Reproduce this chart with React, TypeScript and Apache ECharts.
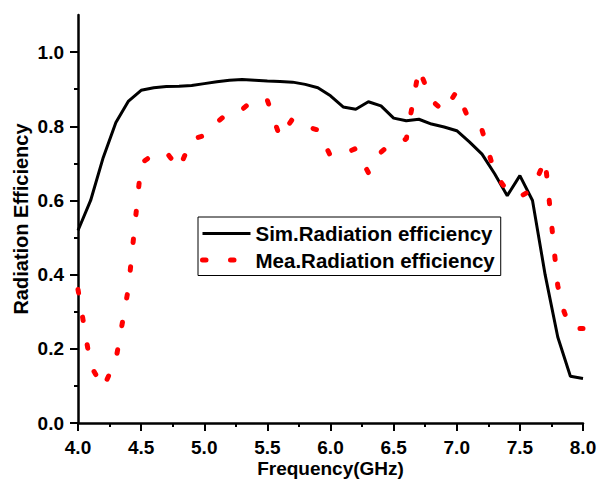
import React, { useEffect, useRef } from "react";
import * as echarts from "echarts";

const simFreq = [4.0, 4.1, 4.2, 4.3, 4.4, 4.5, 4.6, 4.7, 4.8, 4.9, 5.0, 5.1, 5.2, 5.3, 5.4, 5.5, 5.6, 5.7, 5.8, 5.9, 6.0, 6.1, 6.2, 6.3, 6.4, 6.5, 6.6, 6.7, 6.8, 6.9, 7.0, 7.1, 7.2, 7.3, 7.4, 7.5, 7.6, 7.7, 7.8, 7.9, 8.0];
const simEff = [0.519, 0.6, 0.716, 0.81, 0.868, 0.897, 0.904, 0.907, 0.908, 0.91, 0.915, 0.92, 0.924, 0.926, 0.924, 0.922, 0.921, 0.919, 0.913, 0.904, 0.882, 0.852, 0.846, 0.866, 0.855, 0.822, 0.815, 0.819, 0.806, 0.798, 0.788, 0.758, 0.725, 0.672, 0.613, 0.667, 0.6, 0.4, 0.232, 0.126, 0.12];

const meaFreq = [4.0, 4.1, 4.2, 4.3, 4.4, 4.5, 4.6, 4.7, 4.8, 4.9, 5.0, 5.1, 5.2, 5.3, 5.4, 5.5, 5.6, 5.7, 5.8, 5.9, 6.0, 6.1, 6.2, 6.3, 6.4, 6.5, 6.6, 6.7, 6.8, 6.9, 7.0, 7.1, 7.2, 7.3, 7.4, 7.5, 7.6, 7.7, 7.8, 7.85, 7.9, 8.0];
const meaEff = [0.36, 0.155, 0.095, 0.17, 0.365, 0.7, 0.725, 0.73, 0.685, 0.765, 0.775, 0.81, 0.84, 0.845, 0.875, 0.87, 0.77, 0.82, 0.8, 0.79, 0.72, 0.725, 0.74, 0.675, 0.73, 0.76, 0.765, 0.955, 0.87, 0.84, 0.895, 0.815, 0.79, 0.675, 0.625, 0.61, 0.63, 0.71, 0.37, 0.3, 0.255, 0.255];

const seriesNames = ["Sim.Radiation efficiency", "Mea.Radiation efficiency"];
const yMajorTicks = [0, 0.2, 0.4, 0.6, 0.8, 1.0];
const yMinorTicks = [0.1, 0.3, 0.5, 0.7, 0.9];

const FONT = 'Arial, "Liberation Sans", sans-serif';
const RED_DASH = [3.5, 24.5];

export default function App() {
  const ref = useRef<HTMLDivElement>(null);
  useEffect(() => {
    document.body.style.margin = "0";
    if (!ref.current) return;
    const chart = echarts.init(ref.current, undefined, { renderer: "svg" });
    const axisLine = { show: true, onZero: false, lineStyle: { color: "#000", width: 2.5 } };
    const tickFont = { fontSize: 19, fontWeight: "bold", color: "#000", fontFamily: FONT };
    chart.setOption({
      animation: false,
      backgroundColor: "#fff",
      grid: { left: 78, right: 16, top: 15, bottom: 56, containLabel: false, outerBoundsMode: "none" },
      legend: {
        orient: "vertical",
        left: 198,
        top: 217,
        padding: [6, 6, 5, 2],
        itemWidth: 48,
        itemHeight: 14,
        itemGap: 5.5,
        borderColor: "#000",
        borderWidth: 1,
        backgroundColor: "#fff",
        textStyle: { fontSize: 20.5, fontWeight: "bold", color: "#000", fontFamily: FONT },
        data: [
          { name: seriesNames[0], itemStyle: { opacity: 0 }, lineStyle: { width: 3, color: "#000" } },
          { name: seriesNames[1], itemStyle: { opacity: 0 }, lineStyle: { width: 5, color: "#ff0000", type: RED_DASH, cap: "round" } },
        ],
      },
      xAxis: {
        type: "value",
        min: 4,
        max: 8,
        interval: 0.5,
        name: "Frequency(GHz)",
        nameLocation: "middle",
        nameGap: 37,
        nameMoveOverlap: false,
        nameTextStyle: { fontSize: 19, fontWeight: "bold", color: "#000", fontFamily: FONT, lineHeight: 16 },
        axisLine,
        axisTick: { show: true, inside: false, length: 8, lineStyle: { color: "#000", width: 2 } },
        minorTick: { show: true, splitNumber: 2, length: 4, lineStyle: { color: "#000", width: 2 } },
        splitLine: { show: false },
        axisLabel: { margin: 17, ...tickFont, lineHeight: 15, formatter: (v: number) => v.toFixed(1) },
      },
      yAxis: [
        {
          type: "value",
          min: 0,
          max: 1.1,
          interval: 0.1,
          name: "Radiation Efficiency",
          nameLocation: "middle",
          nameGap: 47,
          nameMoveOverlap: false,
          nameTextStyle: { fontSize: 20, fontWeight: "bold", color: "#000", fontFamily: FONT, lineHeight: 20 },
          axisLine,
          axisTick: { show: true, inside: false, length: 8, customValues: yMajorTicks, lineStyle: { color: "#000", width: 2 } },
          splitLine: { show: false },
          axisLabel: { margin: 14, ...tickFont, customValues: yMajorTicks, formatter: (v: number) => v.toFixed(1) },
        },
        {
          type: "value",
          min: 0,
          max: 1.1,
          interval: 0.1,
          position: "left",
          axisLine: { show: false },
          axisTick: { show: true, inside: false, length: 4, customValues: yMinorTicks, lineStyle: { color: "#000", width: 2 } },
          axisLabel: { show: false },
          splitLine: { show: false },
        },
      ],
      series: [
        {
          name: seriesNames[0],
          type: "line",
          symbol: "none",
          data: simFreq.map((f, i) => [f, simEff[i]]),
          lineStyle: { color: "#000", width: 3 },
          itemStyle: { color: "#000" },
          z: 2,
        },
        {
          name: seriesNames[1],
          type: "line",
          symbol: "none",
          data: meaFreq.map((f, i) => [f, meaEff[i]]),
          lineStyle: { color: "#ff0000", width: 5, type: RED_DASH, cap: "round" },
          itemStyle: { color: "#ff0000" },
          z: 3,
        },
      ],
    });
    return () => chart.dispose();
  }, []);
  return <div ref={ref} style={{ width: 599, height: 479 }} />;
}
